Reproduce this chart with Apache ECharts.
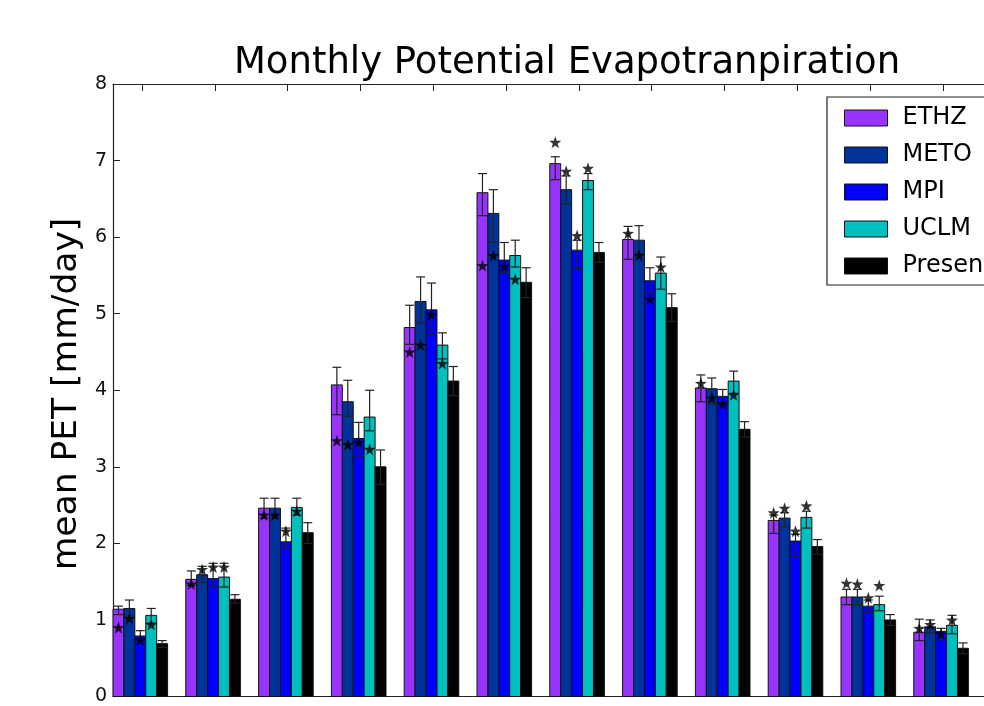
<!DOCTYPE html>
<html>
<head>
<meta charset="utf-8">
<script src="https://cdn.jsdelivr.net/npm/echarts@6/dist/echarts.min.js"></script>
<style>
  html, body { margin: 0; padding: 0; background: #fff; }
  #chart { width: 984px; height: 706px; }
</style>
</head>
<body>
<div id="chart"></div>
<script>
// Monthly mean potential evapotranspiration per model, with ranges and significance stars
const months = ['Jan', 'Feb', 'Mar', 'Apr', 'May', 'Jun', 'Jul', 'Aug', 'Sep', 'Oct', 'Nov', 'Dec'];
const models = ['ETHZ', 'METO', 'MPI', 'UCLM', 'Present'];

// bar heights [mm/day]
const ethz    = [1.14, 1.53, 2.46, 4.07, 4.82, 6.58, 6.96, 5.97, 4.03, 2.30, 1.30, 0.84];
const meto    = [1.15, 1.59, 2.46, 3.85, 5.16, 6.31, 6.62, 5.96, 4.02, 2.33, 1.30, 0.91];
const mpi     = [0.79, 1.54, 2.02, 3.37, 5.05, 5.70, 5.83, 5.43, 3.92, 2.03, 1.18, 0.85];
const uclm    = [1.06, 1.56, 2.47, 3.65, 4.59, 5.76, 6.74, 5.53, 4.12, 2.34, 1.20, 0.93];
const present = [0.69, 1.27, 2.14, 3.00, 4.12, 5.41, 5.80, 5.08, 3.49, 1.96, 1.00, 0.63];

// error bar lower / upper ends
const ethzLo    = [1.07, 1.45, 2.33, 3.68, 4.60, 6.28, 6.75, 5.71, 3.85, 2.13, 1.20, 0.73];
const ethzHi    = [1.18, 1.64, 2.59, 4.30, 5.11, 6.83, 7.05, 6.14, 4.20, 2.37, 1.40, 1.01];
const metoLo    = [1.05, 1.49, 2.33, 3.66, 4.88, 5.93, 6.43, 5.78, 3.82, 2.22, 1.20, 0.83];
const metoHi    = [1.26, 1.70, 2.59, 4.13, 5.48, 6.62, 6.80, 6.15, 4.16, 2.40, 1.40, 1.00];
const mpiLo     = [0.73, 1.43, 1.92, 3.14, 4.73, 5.53, 5.59, 5.27, 3.84, 1.82, 1.10, 0.74];
const mpiHi     = [0.86, 1.74, 2.20, 3.58, 5.40, 5.93, 5.96, 5.60, 4.01, 2.12, 1.26, 0.89];
const uclmLo    = [0.96, 1.43, 2.37, 3.47, 4.41, 5.61, 6.62, 5.32, 3.96, 2.20, 1.12, 0.82];
const uclmHi    = [1.15, 1.74, 2.59, 4.00, 4.75, 5.96, 6.83, 5.74, 4.25, 2.42, 1.31, 1.06];
const presentLo = [0.64, 1.22, 2.00, 2.77, 3.93, 5.21, 5.67, 4.90, 3.39, 1.86, 0.93, 0.56];
const presentHi = [0.73, 1.33, 2.27, 3.22, 4.31, 5.60, 5.93, 5.26, 3.59, 2.05, 1.07, 0.70];

// significance star positions (scenario models only)
const ethzStar = [0.90, 1.47, 2.37, 3.34, 4.50, 5.63, 7.24, 6.05, 4.09, 2.40, 1.48, 0.89];
const metoStar = [1.02, 1.66, 2.37, 3.29, 4.59, 5.76, 6.86, 5.76, 3.90, 2.46, 1.47, 0.94];
const mpiStar  = [0.74, 1.69, 2.16, 3.32, 4.99, 5.62, 6.02, 5.19, 3.82, 2.16, 1.29, 0.82];
const uclmStar = [0.94, 1.69, 2.42, 3.23, 4.35, 5.45, 6.90, 5.61, 3.94, 2.49, 1.45, 1.00];

const yTicks = [0, 1, 2, 3, 4, 5, 6, 7, 8];

const values = [ethz, meto, mpi, uclm, present];
const lows   = [ethzLo, metoLo, mpiLo, uclmLo, presentLo];
const highs  = [ethzHi, metoHi, mpiHi, uclmHi, presentHi];
const stars  = [ethzStar, metoStar, mpiStar, uclmStar, null];
const colors = ['#9933ff', '#003399', '#0000ff', '#00bfbf', '#000000'];

const BAR_W = 0.15;        // bar width in x units
const TICK_OFF = 0.4;      // month tick offset inside each group
const PX_PER_UNIT = 72.8;  // horizontal scale of one month group
const GRID_LEFT = 113;
const GRID_W = 984 - GRID_LEFT;
const X_MAX = GRID_W / PX_PER_UNIT;

const STAR_PATH = 'path://M0,-10 L2.35,-3.24 L9.51,-3.09 L3.80,1.24 L5.88,8.09 L0,4 L-5.88,8.09 L-3.80,1.24 L-9.51,-3.09 L-2.35,-3.24 Z';

const tickPositions = months.map((m, i) => i + TICK_OFF);

const series = [];

// bars
models.forEach((name, k) => {
  series.push({
    name: name,
    type: 'custom',
    itemStyle: { color: colors[k] },
    encode: { x: 0, y: 1 },
    data: values[k].map((v, i) => [i, v]),
    renderItem: function (params, api) {
      const i = api.value(0);
      const v = api.value(1);
      const x0 = i + k * BAR_W;
      const pTop = api.coord([x0, v]);
      const pBot = api.coord([x0 + BAR_W, 0]);
      return {
        type: 'rect',
        shape: { x: pTop[0], y: pTop[1], width: pBot[0] - pTop[0], height: pBot[1] - pTop[1] },
        style: { fill: colors[k], stroke: '#111', lineWidth: 1 }
      };
    },
    z: 2
  });
});

// error bars
models.forEach((name, k) => {
  series.push({
    name: name + ' range',
    type: 'custom',
    encode: { x: 0, y: [1, 2] },
    data: values[k].map((v, i) => [i, lows[k][i], highs[k][i]]),
    renderItem: function (params, api) {
      const i = api.value(0);
      const cx = i + k * BAR_W + BAR_W / 2;
      const lo = api.coord([cx, api.value(1)]);
      const hi = api.coord([cx, api.value(2)]);
      const cap = 4.5;
      const st = { stroke: '#222', lineWidth: 1.2, fill: null };
      return {
        type: 'group',
        children: [
          { type: 'line', shape: { x1: lo[0], y1: lo[1], x2: hi[0], y2: hi[1] }, style: st },
          { type: 'line', shape: { x1: hi[0] - cap, y1: hi[1], x2: hi[0] + cap, y2: hi[1] }, style: st },
          { type: 'line', shape: { x1: lo[0] - cap, y1: lo[1], x2: lo[0] + cap, y2: lo[1] }, style: st }
        ]
      };
    },
    z: 3
  });
});

// stars
models.forEach((name, k) => {
  if (!stars[k]) return;
  series.push({
    name: name + ' signif',
    type: 'scatter',
    symbol: STAR_PATH,
    symbolSize: 12,
    itemStyle: { color: '#000' },
    data: stars[k].map((v, i) => [i + k * BAR_W + BAR_W / 2, v]),
    z: 4
  });
});

const chart = echarts.init(document.getElementById('chart'), null, { renderer: 'canvas' });

chart.setOption({
  animation: false,
  backgroundColor: '#ffffff',
  grid: { left: GRID_LEFT, top: 84, width: GRID_W, height: 621, containLabel: false },
  legend: {
    data: models,
    orient: 'vertical',
    left: 827,
    top: 97,
    icon: 'rect',
    itemWidth: 43,
    itemHeight: 16,
    itemGap: 13,
    padding: [9, 14, 7, 17],
    backgroundColor: '#ffffff',
    borderColor: '#222',
    borderWidth: 1.2,
    borderRadius: 0,
    itemStyle: { borderColor: '#111', borderWidth: 1 },
    textStyle: { fontFamily: 'DejaVu Sans', fontSize: 24, color: '#000', lineHeight: 16, height: 16, padding: [0, 0, 0, 10] },
    selectedMode: false
  },
  xAxis: [
    {
      type: 'value', min: 0, max: X_MAX, position: 'bottom',
      axisLine: { show: true, onZero: false, lineStyle: { color: '#222', width: 1.2 } },
      axisTick: { show: true, inside: true, length: 7, customValues: tickPositions, lineStyle: { color: '#222', width: 1 } },
      axisLabel: { show: false },
      splitLine: { show: false }
    },
    {
      type: 'value', min: 0, max: X_MAX, position: 'top',
      axisLine: { show: true, onZero: false, lineStyle: { color: '#222', width: 1.2 } },
      axisTick: { show: true, inside: true, length: 7, customValues: tickPositions, lineStyle: { color: '#222', width: 1 } },
      axisLabel: { show: false },
      splitLine: { show: false }
    }
  ],
  yAxis: {
    type: 'value', min: yTicks[0], max: yTicks[yTicks.length - 1], interval: 1,
    axisLine: { show: true, onZero: false, lineStyle: { color: '#222', width: 1.2 } },
    axisTick: { show: true, inside: true, length: 7, lineStyle: { color: '#222', width: 1 } },
    axisLabel: { fontFamily: 'DejaVu Sans', fontSize: 19, color: '#111', margin: 6 },
    splitLine: { show: false }
  },
  graphic: [
    {
      type: 'text', x: 567, y: 63,
      style: { text: 'Monthly Potential Evapotranpiration', font: '37px "DejaVu Sans"', fill: '#000', align: 'center', verticalAlign: 'middle' }
    },
    {
      type: 'text', x: 67, y: 394, rotation: Math.PI / 2,
      style: { text: 'mean PET [mm/day]', font: '34.5px "DejaVu Sans"', fill: '#000', align: 'center', verticalAlign: 'middle' }
    }
  ],
  series: series
});
</script>
</body>
</html>
